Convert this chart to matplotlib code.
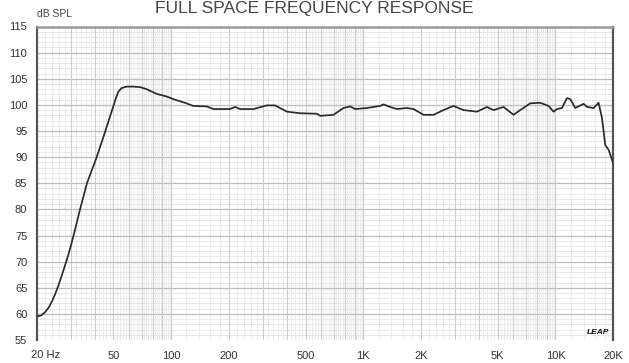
import numpy as np
import matplotlib
matplotlib.use("Agg")
import matplotlib.pyplot as plt
from matplotlib.ticker import FixedLocator, NullFormatter
import matplotlib.transforms as mtransforms

plt.rcParams['font.family'] = ['Liberation Sans', 'DejaVu Sans']

# ---- data ----
freq_hz = [20, 21, 22, 23, 24, 25, 26, 27, 28, 29, 30.1, 31.5, 33.4, 36.4, 40.9, 45.4,
           48, 50.0, 51.5, 53, 55, 58.6, 63, 68.8, 74.5, 84.0, 94.7, 102.6, 120, 130,
           153, 166, 202, 215, 228, 268, 314, 347, 400, 469, 573, 596, 699, 788, 854,
           907, 1043, 1223, 1272, 1379, 1494, 1684, 1824, 2056, 2318, 2612, 2944, 3322,
           3902, 4398, 4762, 5366, 6050, 6556, 7392, 8334, 9206, 9774, 10182,
           10810, 11482, 11940, 12678, 14008, 14590, 15792, 16766, 17460, 18166,
           18900, 20000]
spl_db = [59.5, 59.7, 60.3, 61.2, 62.5, 64.0, 65.7, 67.5, 69.3, 71.1, 73.2, 76.0, 79.8,
          85.0, 90.0, 95.0, 97.8, 99.8, 101.3, 102.5, 103.2, 103.5, 103.5, 103.4, 103.0,
          102.1, 101.6, 101.1, 100.3, 99.8, 99.7, 99.2, 99.2, 99.6, 99.2, 99.2, 99.9,
          99.9, 98.7, 98.4, 98.3, 97.9, 98.1, 99.4, 99.7, 99.2, 99.4, 99.8, 100.1,
          99.6, 99.2, 99.4, 99.2, 98.1, 98.1, 99.0, 99.8, 99.0, 98.7, 99.6, 99.0, 99.6,
          98.1, 99.0, 100.3, 100.4, 99.8, 98.7, 99.2, 99.4, 101.3, 101.1, 99.4, 100.2,
          99.6, 99.4, 100.4, 97.5, 92.3, 91.4, 88.8]

x_tick_values = [20, 50, 100, 200, 500, 1000, 2000, 5000, 10000, 20000]
x_tick_labels = ["20 Hz", "50", "100", "200", "500", "1K", "2K", "5K", "10K", "20K"]
y_tick_values = list(range(55, 116, 5))

# ---- figure ----
W, H = 629, 363
fig = plt.figure(figsize=(W / 100, H / 100), dpi=100)
ax = fig.add_axes([37 / W, 1 - 340 / H, (613.3 - 37) / W, (340 - 26.5) / H])
ax.set_xscale('log')
ax.set_xlim(20, 20000)
ax.set_ylim(55, 115)

# grid lines
sub = []
minor = []
for dec in [10, 100, 1000, 10000]:
    for k in range(1, 10):
        minor.append(k * dec)
        for j in range(1, 5):
            sub.append((k + j * 0.2) * dec)
sub = [v for v in sub if 20 < v < 20000]
minor = [v for v in minor if 20 < v < 20000]
for v in sub:
    ax.axvline(v, color='#ececec', lw=0.7, zorder=0)
for v in minor:
    ax.axvline(v, color='#cccccc', lw=0.8, zorder=0.5)
for v in range(56, 115):
    if v % 5:
        ax.axhline(v, color='#e8e8e8', lw=0.7, zorder=0)
for v in y_tick_values[1:-1]:
    ax.axhline(v, color='#bdbdbd', lw=0.9, zorder=0.5)

ax.plot(freq_hz, spl_db, color='#2a2a2a', lw=1.25, zorder=3,
        solid_joinstyle='round', solid_capstyle='round')

# ticks
ax.xaxis.set_minor_locator(FixedLocator([]))
ax.xaxis.set_minor_formatter(NullFormatter())
ax.set_xticks(x_tick_values)
ax.set_xticklabels([""] + x_tick_labels[1:])
ax.set_yticks(y_tick_values)
ax.set_yticklabels([str(v) for v in y_tick_values])
ax.tick_params(axis='both', length=0, labelsize=8, labelcolor='#333333')
ax.tick_params(axis='x', pad=8)
ax.tick_params(axis='y', pad=7)

# first x label: "20" centred on tick, "Hz" trailing
off = mtransforms.ScaledTranslation(-6 / 100, 0, fig.dpi_scale_trans)
trans = mtransforms.blended_transform_factory(ax.transData, ax.transAxes) + off
ax.text(x_tick_values[0], -0.048, x_tick_labels[0], transform=trans, ha='left', va='center',
        fontsize=8, color='#333333')

# spines
for s in ['left', 'right']:
    ax.spines[s].set_color('#555555')
    ax.spines[s].set_linewidth(1.6)
ax.spines['top'].set_color('#9a9a9a')
ax.spines['top'].set_linewidth(1.8)
ax.spines['bottom'].set_visible(False)

# texts
fig.text(37 / W, 1 - 14 / H, "dB SPL", ha='left', va='center', fontsize=7.5, color='#444444')
fig.text(0.5, 1 - 12.5 / H, "FULL SPACE FREQUENCY RESPONSE", ha='center', va='baseline',
         fontsize=12.5, color='#444444')
ax.text(0.993, 0.012, "LEAP", transform=ax.transAxes, ha='right', va='bottom',
        fontsize=6, fontweight='bold', fontstyle='italic', color='#111111')

fig.savefig("out.png", dpi=100)
